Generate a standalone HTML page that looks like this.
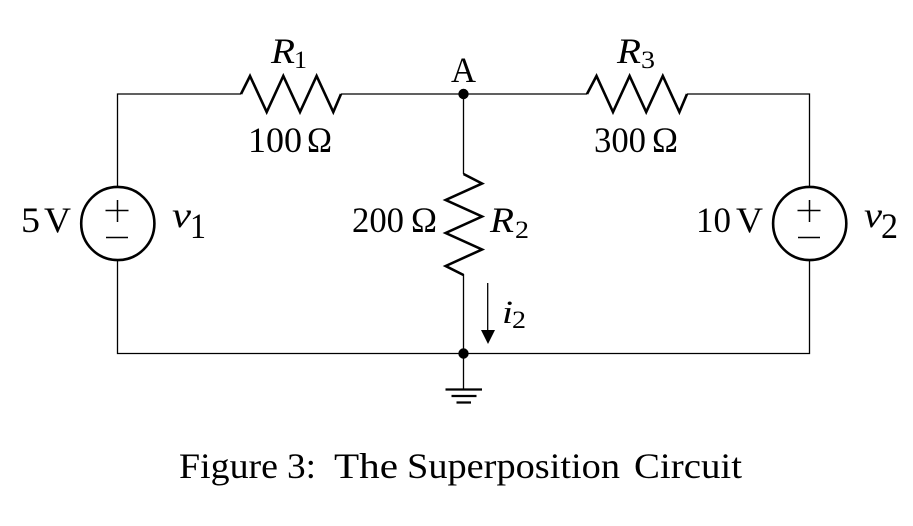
<!DOCTYPE html>
<html><head><meta charset="utf-8">
<style>
html,body{margin:0;padding:0;background:#fff;width:913px;height:526px;overflow:hidden}
svg{display:block}
text{font-family:"Liberation Serif",serif;fill:#000}
.m{font-size:36px}
.c{font-size:36px}
.i{font-style:italic;font-size:36px}
.s{font-size:25px}
</style></head>
<body>
<svg width="913" height="526" viewBox="0 0 913 526" xmlns="http://www.w3.org/2000/svg">
<g fill="none" stroke="#000" stroke-width="1.3">
<path d="M117.5 187V94H241M341 94H587M687 94H809.5V187M809.5 260V353.5H117.5V260"/>
<path d="M463.5 94V174M463.5 274V389.5"/>
</g>
<g fill="none" stroke="#000" stroke-width="2.6" stroke-linejoin="miter">
<path d="M241 94L250 76L266.7 112L283.3 76L300 112L316.6 76L333.3 112L341 94"/>
<path d="M587 94L596.5 76L613 112L629.6 76L646.2 112L662.8 76L679.4 112L687 94"/>
<path d="M463.5 174L482 183.5L445.7 200L482 216.5L445.7 233L482 249.5L445.7 266L463.5 275"/>
<circle cx="117.8" cy="223.5" r="36.6"/>
<circle cx="809.7" cy="223.5" r="36.6"/>
</g>
<g fill="none" stroke="#000" stroke-width="1.5">
<path d="M105.5 210.5H128.5M117.5 200V222M106 237.5H128"/>
<path d="M797.5 210.5H820.5M809.5 200V222M798 237.5H820"/>
</g>
<g fill="none" stroke="#000" stroke-width="2.2">
<path d="M445.5 389.5H482M451.5 396H476.5M456.5 402.5H471"/>
</g>
<path d="M487.7 283V332" fill="none" stroke="#000" stroke-width="1.3"/>
<path d="M481 330H495L488 344Z" fill="#000"/>
<circle cx="463.5" cy="94" r="5.2" fill="#000"/>
<circle cx="463.5" cy="353.5" r="5.2" fill="#000"/>

<text class="i" x="271" y="63" textLength="24" lengthAdjust="spacingAndGlyphs">R</text>
<text class="s" x="294" y="68" textLength="13" lengthAdjust="spacingAndGlyphs">1</text>
<text class="m" x="248" y="152" textLength="54" lengthAdjust="spacingAndGlyphs">100</text>
<text class="m" x="307" y="152" textLength="25" lengthAdjust="spacingAndGlyphs">Ω</text>

<text class="i" x="617" y="63" textLength="24" lengthAdjust="spacingAndGlyphs">R</text>
<text class="s" x="641" y="68" textLength="14" lengthAdjust="spacingAndGlyphs">3</text>
<text class="m" x="594" y="152" textLength="52" lengthAdjust="spacingAndGlyphs">300</text>
<text class="m" x="652" y="152" textLength="26" lengthAdjust="spacingAndGlyphs">Ω</text>

<text class="m" x="451" y="82" textLength="25" lengthAdjust="spacingAndGlyphs">A</text>

<text class="m" x="352" y="232" textLength="52" lengthAdjust="spacingAndGlyphs">200</text>
<text class="m" x="411" y="232" textLength="26" lengthAdjust="spacingAndGlyphs">Ω</text>
<text class="i" x="490" y="232" textLength="24" lengthAdjust="spacingAndGlyphs">R</text>
<text class="s" x="515" y="238" textLength="14" lengthAdjust="spacingAndGlyphs">2</text>

<text class="m" x="21" y="232" textLength="19" lengthAdjust="spacingAndGlyphs">5</text>
<text class="m" x="44" y="232" textLength="27" lengthAdjust="spacingAndGlyphs">V</text>
<text class="i" x="172" y="227" textLength="19" lengthAdjust="spacingAndGlyphs">v</text>
<text class="m" x="190" y="238" textLength="16" lengthAdjust="spacingAndGlyphs">1</text>

<text class="m" x="696" y="232" textLength="35" lengthAdjust="spacingAndGlyphs">10</text>
<text class="m" x="736" y="232" textLength="27" lengthAdjust="spacingAndGlyphs">V</text>
<text class="i" x="864" y="227" textLength="18" lengthAdjust="spacingAndGlyphs">v</text>
<text class="m" x="881" y="238" textLength="17" lengthAdjust="spacingAndGlyphs">2</text>

<text class="i" x="502" y="323" textLength="11" lengthAdjust="spacingAndGlyphs" style="font-size:33px">i</text>
<text class="s" x="512" y="328" textLength="14" lengthAdjust="spacingAndGlyphs">2</text>

<text class="c" x="179" y="478" textLength="99" lengthAdjust="spacingAndGlyphs">Figure</text>
<text class="c" x="287" y="478" textLength="29" lengthAdjust="spacingAndGlyphs">3:</text>
<text class="c" x="334" y="478" textLength="64" lengthAdjust="spacingAndGlyphs">The</text>
<text class="c" x="407" y="478" textLength="213" lengthAdjust="spacingAndGlyphs">Superposition</text>
<text class="c" x="634" y="478" textLength="108" lengthAdjust="spacingAndGlyphs">Circuit</text>
</svg>
</body></html>
